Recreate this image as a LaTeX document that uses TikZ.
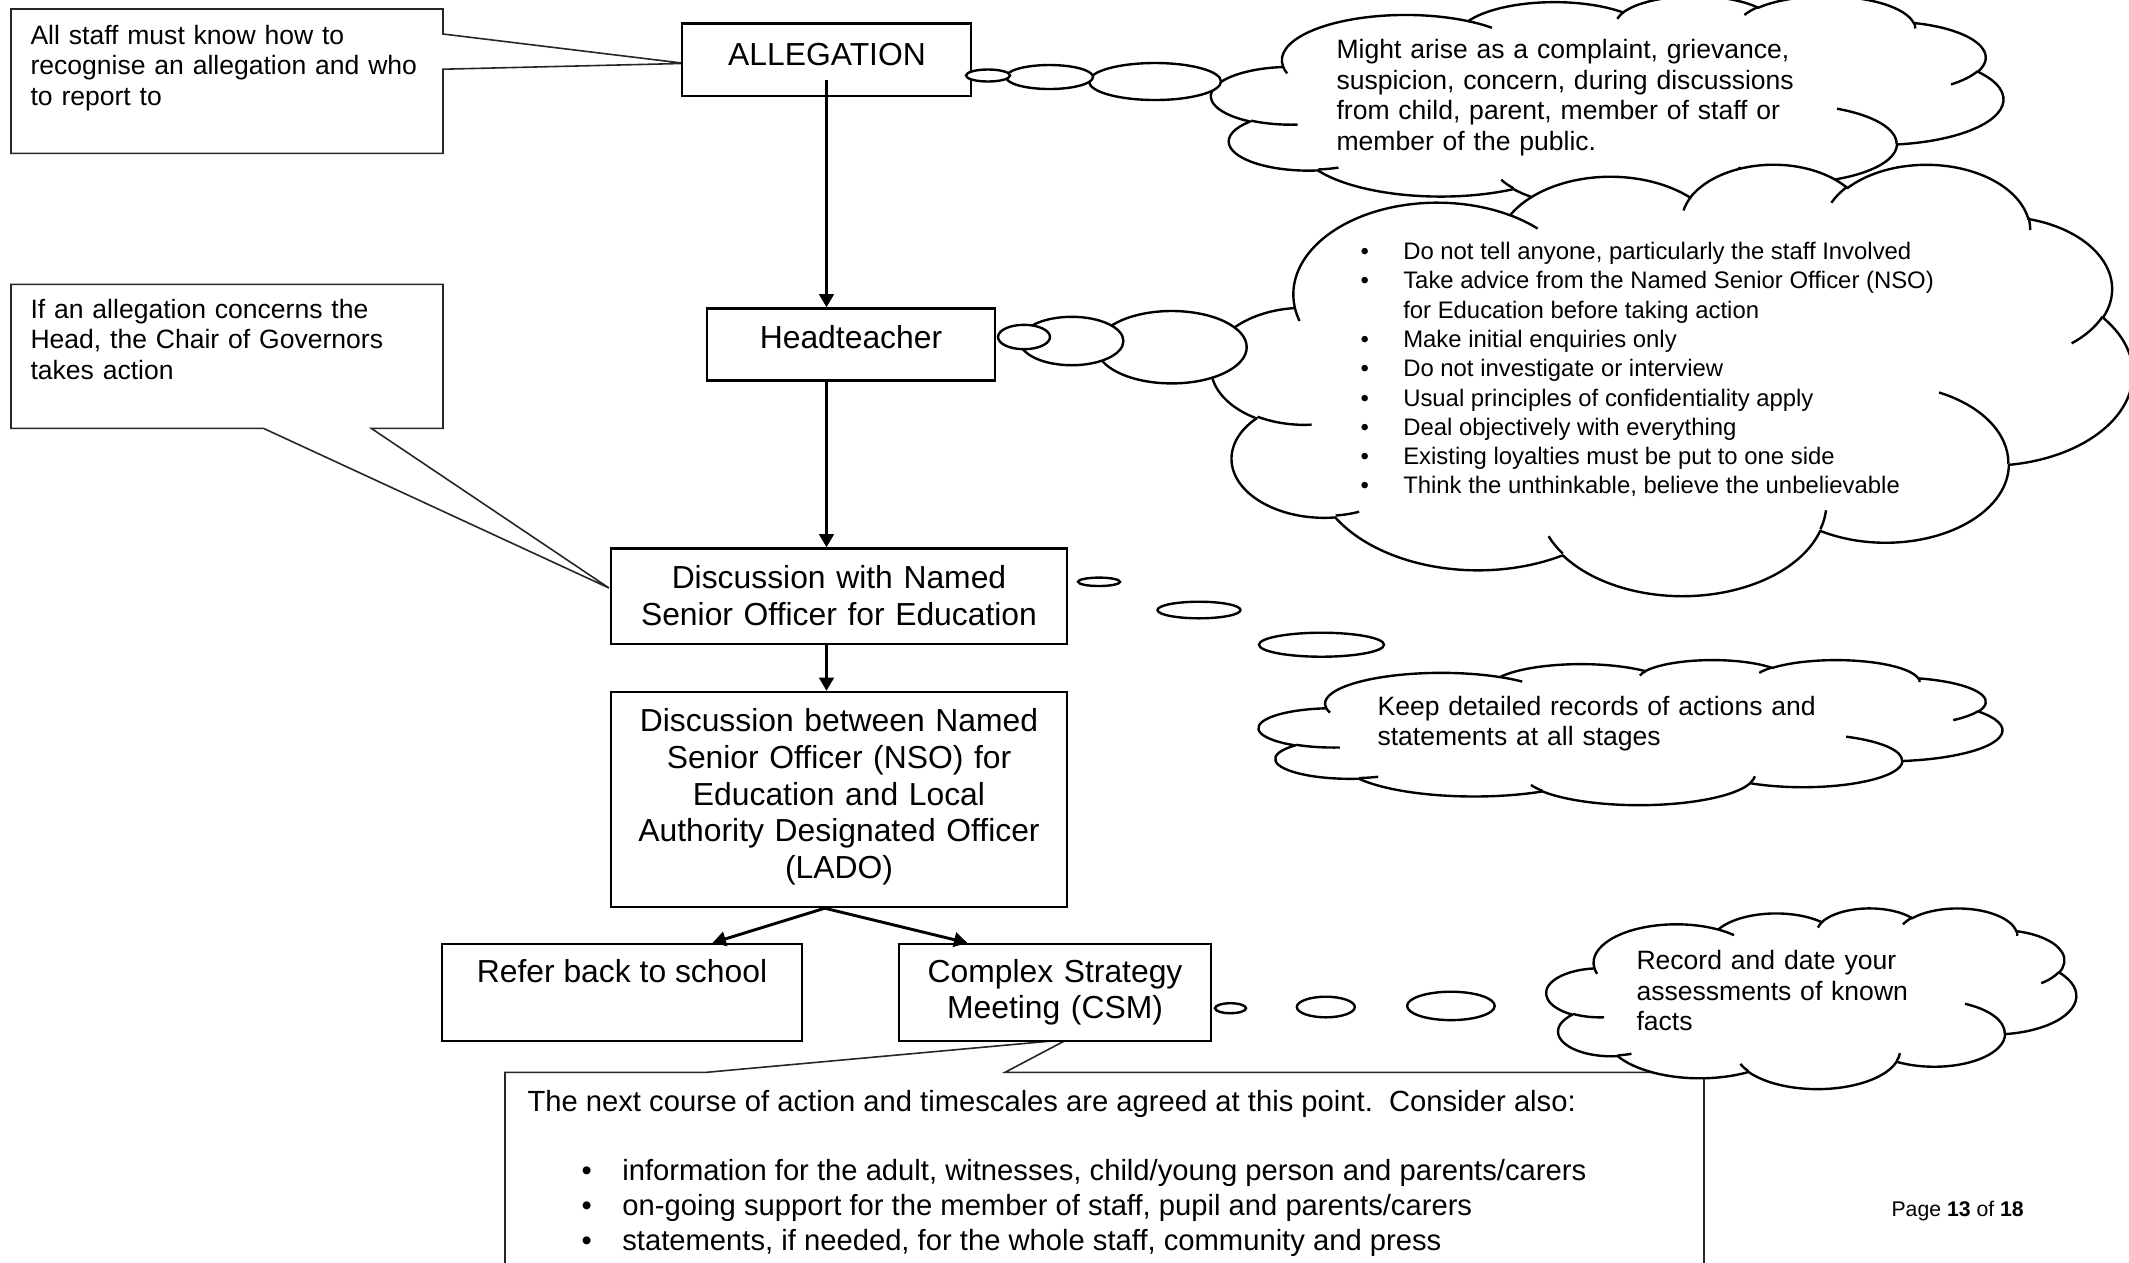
\documentclass[tikz,border=0pt]{standalone}
\usepackage{fontspec}
\setmainfont{Liberation Sans}
\usetikzlibrary{arrows.meta,fit,calc}
\newcommand\wordcloud[4]{%
\begin{scope}[shift={(#1,#2)},x={#3*0.003768pt},y={-#4*0.003768pt}]
\filldraw[cloudline,fill=white] (9.0278,33.2639)
 arc[wa={15.6319}{21.2731}{-190.4875}{123.7805}]
 arc[wa={12.3449}{16.8218}{-144.1024}{89.9452}]
 arc[wa={10.1042}{13.7616}{-145.8079}{99.7230}]
 arc[wa={11.2431}{15.2662}{-130.9861}{117.2417}]
 arc[wa={12.3449}{16.8356}{-78.7089}{109.0269}]
 arc[wa={15.6829}{21.3426}{-46.2673}{130.2690}]
 arc[wa={13.3912}{18.2106}{0.6250}{114.0333}]
 arc[wa={15.6296}{21.3310}{22.4516}{115.1726}]
 arc[wa={17.8704}{24.4051}{66.2426}{75.7110}]
 arc[wa={10.0926}{13.6991}{-274.9421}{146.7356}]
 arc[wa={10.0579}{13.7616}{-246.8285}{152.5189}] -- cycle;
\draw[cloudline]
 (10.8634,60.5949) arc[wa={10.0579}{13.7616}{86.742}{26.4295}]
 (16.0370,80.7847) arc[wa={10.0926}{13.6991}{73.6105}{11.4475}]
 (38.1435,90.4861) arc[wa={15.6296}{21.3310}{137.6242}{14.0811}]
 (66.7292,80.4421) arc[wa={15.6296}{21.3310}{6.4533}{15.9984}]
 (79.0023,53.1343) arc[wa={13.3912}{18.2106}{-70.2924}{70.9174}]
 (96.7546,35.5417) arc[wa={12.3449}{16.8356}{30.3180}{27.7515}]
 (88.7130,12.5602) arc[wa={11.2431}{15.2662}{-13.7443}{14.8589}]
 (67.3102,9.1481) arc[wa={11.2431}{15.2662}{-149.1815}{18.1954}]
 (51.2523,10.9259) arc[wa={10.1042}{13.7616}{-163.4943}{17.6864}]
 (32.4074,12.0185) arc[wa={15.6319}{21.2731}{-66.7070}{12.3194}]
 (9.5532,36.5486) arc[wa={15.6319}{21.2731}{157.6544}{11.8582}];
\end{scope}}
\begin{document}
\begin{tikzpicture}[x=0.3768pt,y=-0.3768pt,
  declare function={ptang(\a,\w,\h)=\a+mod(atan2(\w*sin(\a),\h*cos(\a))-(\a)+540,360)-180;},
  wa/.style n args={4}{x radius=#1,y radius=#2,start angle={ptang(#3,#1,#2)},end angle={ptang(#3+#4,#1,#2)}},
  cloudline/.style={line width=0.9pt,line join=round},
  bub/.style={line width=0.9pt,fill=white},
  mainbox/.style={draw,line width=0.9pt,fill=white,inner sep=0pt},
  callout/.style={draw=black!85,line width=0.6pt,fill=white,line join=miter},
  arr/.style={line width=1.1pt,-{Triangle[length=5pt,width=5.5pt]}},
  t12/.style={font=\fontsize{12}{13.85}\selectfont,inner sep=0pt},
  t11/.style={font=\fontsize{11}{13.3}\selectfont,inner sep=0pt},
  t10/.style={font=\fontsize{10}{11.5}\selectfont,inner sep=0pt},
  t9/.style={font=\fontsize{9}{11.04}\selectfont,inner sep=0pt},
  t8/.style={font=\fontsize{8}{9.2}\selectfont,inner sep=0pt},
]
\useasboundingbox (0,0) rectangle (2129,1262);
\clip (0,0) rectangle (2129,1262);
\fill[white] (0,0) rectangle (2129,1262);

% callouts (rectangles with pointers)
\filldraw[callout] (11,9) -- (443,9) -- (443,34) -- (685,63.4) -- (443,69.2) -- (443,153.4) -- (11,153.4) -- cycle;
\filldraw[callout] (11,284.4) -- (443,284.4) -- (443,428.3) -- (371.2,428.3) -- (609,588) -- (263.4,428.3) -- (11,428.3) -- cycle;
\filldraw[callout] (505,1072.3) -- (706.5,1072.3) -- (1067,1039.6) -- (1005,1072.3) -- (1704,1072.3) -- (1704,1300) -- (505,1300) -- cycle;

\node[t10,anchor=base west,align=left,text width=160pt] (c1t) at (30,44) {All staff must know how to\\recognise an allegation and who\\to report to};
\node[t10,anchor=base west,align=left,text width=160pt] (c2t) at (30,318) {If an allegation concerns the\\Head, the Chair of Governors\\takes action};
\node[t11,anchor=base west] (c3t) at (527,1111) {The next course of action and timescales are agreed at this point.\ \ Consider also:};
\node[t11,anchor=base west] (c3l) at (581,1180) {\begin{tabular}[t]{@{}p{15.4pt}@{}l@{}}
\textbullet & information for the adult, witnesses, child/young person and parents/carers\\
\textbullet & on-going support for the member of staff, pupil and parents/carers\\
\textbullet & statements, if needed, for the whole staff, community and press
\end{tabular}};

% main boxes
\node[mainbox,fit={(682,23.6) (971,96.2)}] (alleg) {};
\node[mainbox,fit={(707,308.5) (995,380.5)}] (head) {};
\node[mainbox,fit={(611,548.5) (1067,644)}] (disc1) {};
\node[mainbox,fit={(611,692) (1067,907)}] (disc2) {};
\node[mainbox,fit={(442,944) (802,1041)}] (refer) {};
\node[mainbox,fit={(899,944) (1211,1041)}] (csm) {};

\node[t12,anchor=base] (allegT) at (827,65) {ALLEGATION};
\node[t12,anchor=base] (headT) at (851,348.5) {Headteacher};
\node[t12,anchor=base,align=center,text width=165pt] (disc1T) at (839,588.5) {Discussion with Named\\Senior Officer for Education};
\node[t12,anchor=base,align=center,text width=165pt] (disc2T) at (839,731.5) {Discussion between Named\\Senior Officer (NSO) for\\Education and Local\\Authority Designated Officer\\(LADO)};
\node[t12,anchor=base] (referT) at (622,982.5) {Refer back to school};
\node[t12,anchor=base,align=center,text width=110pt] (csmT) at (1055,982) {Complex Strategy\\Meeting (CSM)};

% arrows
\draw[arr] ([yshift=6.4pt]alleg.south) -- (alleg.south |- head.north);
\draw[arr] (alleg.south |- head.south) -- (alleg.south |- disc1.north);
\draw[arr] (alleg.south |- disc1.south) -- (alleg.south |- disc2.north);
\coordinate (split) at ($(disc2.south west)!0.469!(disc2.south east)$);
\draw[arr] (split) -- ($(refer.north west)!0.75!(refer.north east)$);
\draw[arr] (split) -- ($(csm.north west)!0.221!(csm.north east)$);

% cloud 1 and its bubbles
\wordcloud{1211.5}{-4.5}{791.5}{213}
\filldraw[bub] (1155,81.5) ellipse [x radius=66, y radius=18.5];
\filldraw[bub] (1049.5,77) ellipse [x radius=43.5, y radius=12];
\filldraw[bub] (988,75.5) ellipse [x radius=22, y radius=6];
\node[t10,anchor=base west,align=left,text width=200pt] (cl1T) at (1336,58.5) {Might arise as a complaint, grievance,\\suspicion, concern, during discussions\\from child, parent, member of staff or\\member of the public.};

% cloud 2 and its bubbles
\wordcloud{1211.5}{163.3}{920.7}{431.2}
\filldraw[bub] (1171.7,347.2) ellipse [x radius=75, y radius=36.2];
\filldraw[bub] (1071.7,341) ellipse [x radius=51.7, y radius=24.2];
\filldraw[bub] (1024,337) ellipse [x radius=26, y radius=12.2];
\node[t9,anchor=base west] (cl2T) at (1360,259.5) {\begin{tabular}[t]{@{}p{16.1pt}@{}l@{}}
\textbullet & Do not tell anyone, particularly the staff Involved\\
\textbullet & Take advice from the Named Senior Officer (NSO)\\
 & for Education before taking action\\
\textbullet & Make initial enquiries only\\
\textbullet & Do not investigate or interview\\
\textbullet & Usual principles of confidentiality apply\\
\textbullet & Deal objectively with everything\\
\textbullet & Existing loyalties must be put to one side\\
\textbullet & Think the unthinkable, believe the unbelievable
\end{tabular}};

% cloud 3
\filldraw[bub] (1099,581.8) ellipse [x radius=21, y radius=4.2];
\filldraw[bub] (1199,610) ellipse [x radius=41.5, y radius=8.3];
\filldraw[bub] (1321.5,644.7) ellipse [x radius=62.5, y radius=12];
\wordcloud{1259}{659.6}{743}{145}
\node[t10,anchor=base west,align=left,text width=200pt] (cl3T) at (1377,715) {Keep detailed records of actions and\\statements at all stages};

% cloud 4
\filldraw[bub] (1230.5,1008.2) ellipse [x radius=15.5, y radius=5];
\filldraw[bub] (1325.8,1007) ellipse [x radius=29, y radius=10.3];
\filldraw[bub] (1450.9,1005.9) ellipse [x radius=43.8, y radius=14.2];
\wordcloud{1546.5}{907.8}{529.5}{180.6}
\node[t10,anchor=base west,align=left,text width=150pt] (cl4T) at (1636,969.7) {Record and date your\\assessments of known\\facts};

% footer
\node[t8,anchor=base west] (pg) at (1891,1216) {Page \textbf{13} of \textbf{18}};
\end{tikzpicture}
\end{document}
